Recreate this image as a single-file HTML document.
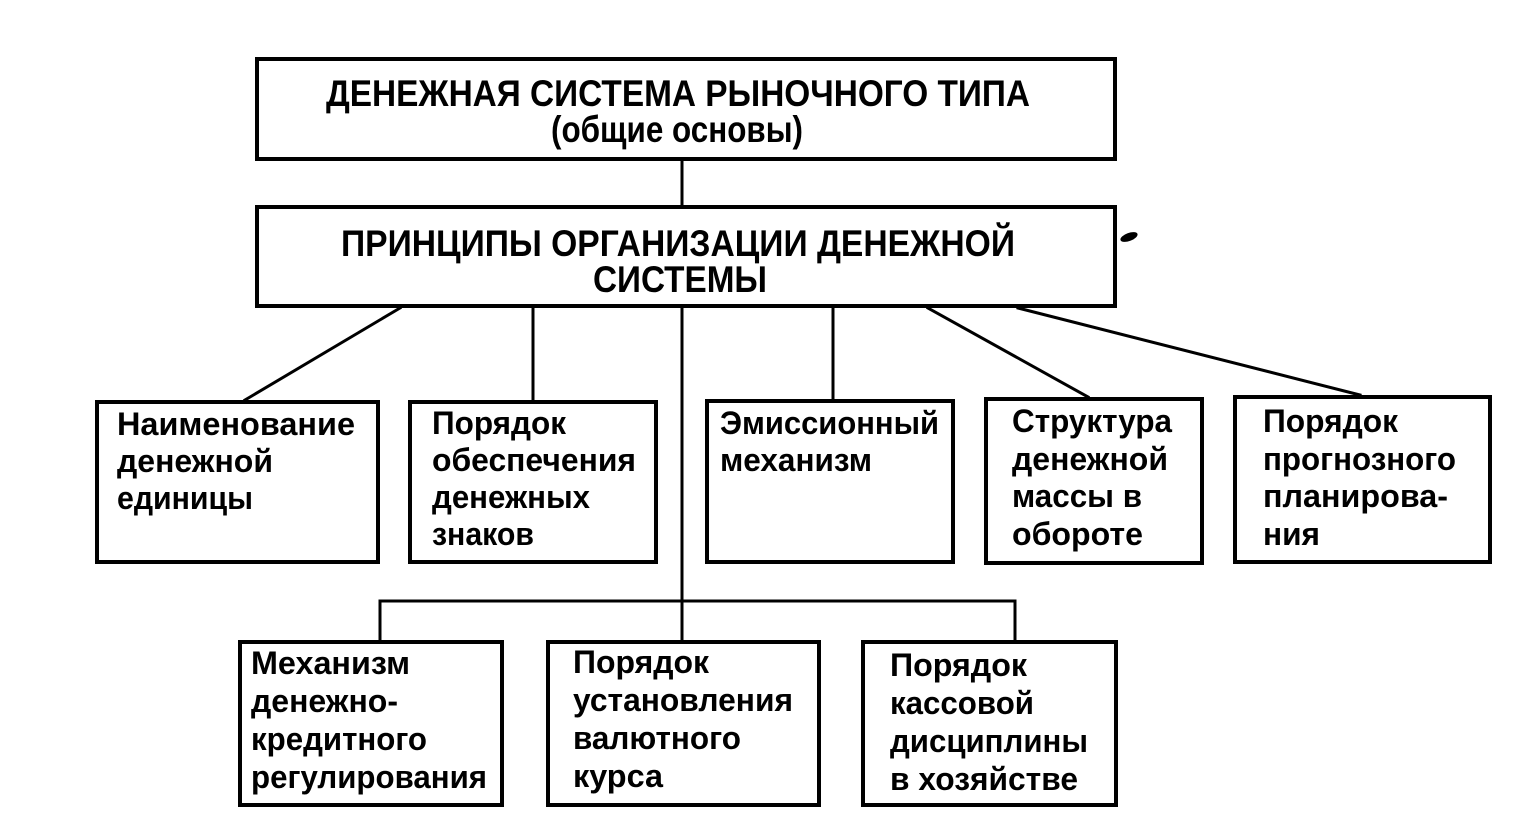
<!DOCTYPE html>
<html>
<head>
<meta charset="utf-8">
<style>
  html,body{margin:0;padding:0;background:#fff;}
  body{width:1516px;height:828px;overflow:hidden;}
  svg{display:block;}
  text{font-family:"Liberation Sans","DejaVu Sans",sans-serif;font-weight:bold;fill:#000;}
</style>
</head>
<body>
<svg width="1516" height="828" viewBox="0 0 1516 828" xmlns="http://www.w3.org/2000/svg">
  <rect x="0" y="0" width="1516" height="828" fill="#fff"/>

  <!-- connectors -->
  <g stroke="#000" stroke-width="3" fill="none" stroke-linecap="square">
    <line x1="682" y1="161" x2="682" y2="206"/>
    <line x1="400" y1="308" x2="245" y2="400"/>
    <line x1="533" y1="308" x2="533" y2="400"/>
    <line x1="682" y1="308" x2="682" y2="601"/>
    <line x1="833" y1="308" x2="833" y2="399"/>
    <line x1="928" y1="308" x2="1088" y2="397"/>
    <line x1="1018" y1="308" x2="1360" y2="395"/>
    <line x1="380" y1="601" x2="1015" y2="601"/>
    <line x1="380" y1="601" x2="380" y2="640"/>
    <line x1="682" y1="601" x2="682" y2="640"/>
    <line x1="1015" y1="601" x2="1015" y2="640"/>
  </g>

  <!-- boxes -->
  <g stroke="#000" stroke-width="4" fill="#fff">
    <rect x="257" y="59" width="858" height="100"/>
    <rect x="257" y="207" width="858" height="99"/>
    <rect x="97" y="402" width="281" height="160"/>
    <rect x="410" y="402" width="246" height="160"/>
    <rect x="707" y="401" width="246" height="161"/>
    <rect x="986" y="399" width="216" height="164"/>
    <rect x="1235" y="397" width="255" height="165"/>
    <rect x="240" y="642" width="262" height="163"/>
    <rect x="548" y="642" width="271" height="163"/>
    <rect x="863" y="642" width="253" height="163"/>
  </g>

  <!-- small ink mark -->
  <ellipse cx="1129" cy="237" rx="9" ry="4" fill="#000" transform="rotate(-20 1129 237)"/>

  <!-- top box text -->
  <g font-size="37">
    <text x="326" y="106" textLength="704" lengthAdjust="spacingAndGlyphs">ДЕНЕЖНАЯ СИСТЕМА РЫНОЧНОГО ТИПА</text>
    <text x="551" y="142" textLength="252" lengthAdjust="spacingAndGlyphs">(общие основы)</text>
    <text x="341" y="256" textLength="674" lengthAdjust="spacingAndGlyphs">ПРИНЦИПЫ ОРГАНИЗАЦИИ ДЕНЕЖНОЙ</text>
    <text x="593" y="292" textLength="174" lengthAdjust="spacingAndGlyphs">СИСТЕМЫ</text>
  </g>

  <!-- row 1 text -->
  <g font-size="32">
    <text x="117" y="435" textLength="238" lengthAdjust="spacingAndGlyphs">Наименование</text>
    <text x="117" y="472" textLength="156" lengthAdjust="spacingAndGlyphs">денежной</text>
    <text x="117" y="509" textLength="136" lengthAdjust="spacingAndGlyphs">единицы</text>

    <text x="432" y="434" textLength="134" lengthAdjust="spacingAndGlyphs">Порядок</text>
    <text x="432" y="471" textLength="204" lengthAdjust="spacingAndGlyphs">обеспечения</text>
    <text x="432" y="508" textLength="158" lengthAdjust="spacingAndGlyphs">денежных</text>
    <text x="432" y="545" textLength="102" lengthAdjust="spacingAndGlyphs">знаков</text>

    <text x="720" y="434" textLength="219" lengthAdjust="spacingAndGlyphs">Эмиссионный</text>
    <text x="720" y="471" textLength="152" lengthAdjust="spacingAndGlyphs">механизм</text>

    <text x="1012" y="432" textLength="160" lengthAdjust="spacingAndGlyphs">Структура</text>
    <text x="1012" y="470" textLength="156" lengthAdjust="spacingAndGlyphs">денежной</text>
    <text x="1012" y="507" textLength="130" lengthAdjust="spacingAndGlyphs">массы в</text>
    <text x="1012" y="545" textLength="131" lengthAdjust="spacingAndGlyphs">обороте</text>

    <text x="1263" y="432" textLength="135" lengthAdjust="spacingAndGlyphs">Порядок</text>
    <text x="1263" y="470" textLength="193" lengthAdjust="spacingAndGlyphs">прогнозного</text>
    <text x="1263" y="507" textLength="185" lengthAdjust="spacingAndGlyphs">планирова-</text>
    <text x="1263" y="545" textLength="57" lengthAdjust="spacingAndGlyphs">ния</text>
  </g>

  <!-- row 2 text -->
  <g font-size="32">
    <text x="251" y="674" textLength="159" lengthAdjust="spacingAndGlyphs">Механизм</text>
    <text x="251" y="712" textLength="147" lengthAdjust="spacingAndGlyphs">денежно-</text>
    <text x="251" y="750" textLength="176" lengthAdjust="spacingAndGlyphs">кредитного</text>
    <text x="251" y="788" textLength="236" lengthAdjust="spacingAndGlyphs">регулирования</text>

    <text x="573" y="673" textLength="136" lengthAdjust="spacingAndGlyphs">Порядок</text>
    <text x="573" y="711" textLength="220" lengthAdjust="spacingAndGlyphs">установления</text>
    <text x="573" y="749" textLength="168" lengthAdjust="spacingAndGlyphs">валютного</text>
    <text x="573" y="787" textLength="90" lengthAdjust="spacingAndGlyphs">курса</text>

    <text x="890" y="676" textLength="137" lengthAdjust="spacingAndGlyphs">Порядок</text>
    <text x="890" y="714" textLength="144" lengthAdjust="spacingAndGlyphs">кассовой</text>
    <text x="890" y="752" textLength="198" lengthAdjust="spacingAndGlyphs">дисциплины</text>
    <text x="890" y="790" textLength="188" lengthAdjust="spacingAndGlyphs">в хозяйстве</text>
  </g>
</svg>
</body>
</html>
